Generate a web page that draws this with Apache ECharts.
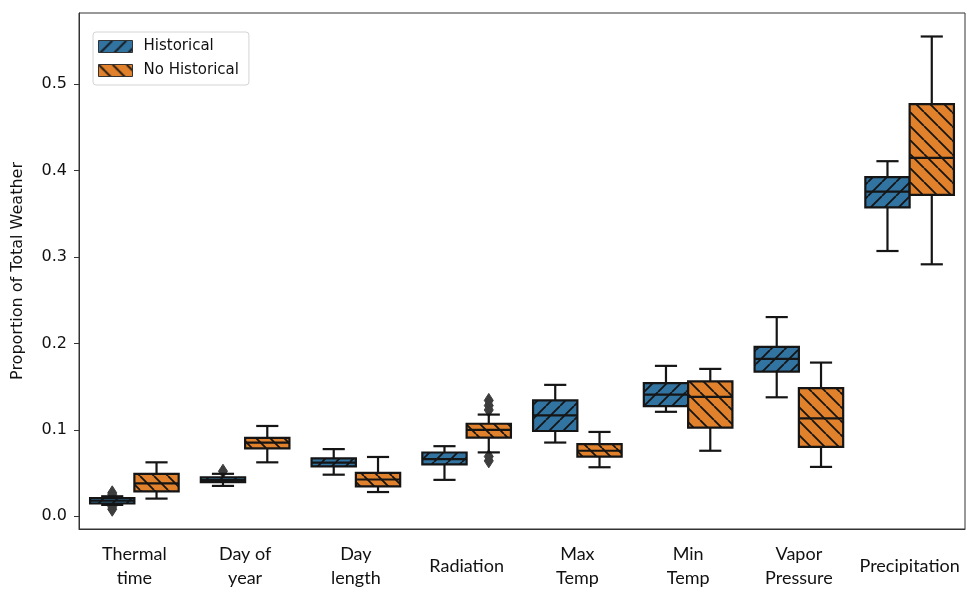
<!DOCTYPE html>
<html><head><meta charset="utf-8">
<script src="https://cdn.jsdelivr.net/npm/echarts@6/dist/echarts.min.js"></script>
<style>html,body{margin:0;padding:0;background:#fff}#c{width:968px;height:590px}</style>
</head><body><div id="c"></div>
<script>
const categories = ['Thermal\ntime','Day of\nyear','Day\nlength','Radiation','Max\nTemp','Min\nTemp','Vapor\nPressure','Precipitation'];
// each row: [whisker low, q1, median, q3, whisker high]
const historical = [
  [0.013, 0.0146, 0.018, 0.021, 0.023],
  [0.035, 0.0393, 0.042, 0.045, 0.049],
  [0.048, 0.0577, 0.062, 0.0669, 0.0776],
  [0.042, 0.060, 0.066, 0.0737, 0.081],
  [0.0852, 0.0986, 0.1166, 0.134, 0.152],
  [0.1208, 0.1273, 0.1407, 0.154, 0.174],
  [0.1376, 0.1674, 0.182, 0.196, 0.2305],
  [0.307, 0.3575, 0.3758, 0.3926, 0.411]
];
const noHistorical = [
  [0.0203, 0.0287, 0.038, 0.049, 0.0623],
  [0.0623, 0.0784, 0.0852, 0.0906, 0.1044],
  [0.0279, 0.0344, 0.0424, 0.0501, 0.0685],
  [0.0738, 0.091, 0.0998, 0.107, 0.1176],
  [0.0566, 0.0688, 0.0757, 0.0833, 0.0975],
  [0.0757, 0.1024, 0.138, 0.156, 0.1705],
  [0.057, 0.0803, 0.1132, 0.1483, 0.1778],
  [0.2916, 0.372, 0.4148, 0.477, 0.5554]
];
// [category index, value]
const historicalOutliers = [[0, 0.008], [0, 0.011], [0, 0.025], [0, 0.027], [1, 0.052]];
const noHistoricalOutliers = [[3, 0.123], [3, 0.128], [3, 0.134], [3, 0.064], [3, 0.069]];
const yTicks = [0, 0.1, 0.2, 0.3, 0.4, 0.5];
const seriesNames = ['Historical', 'No Historical'];

const BLUE = '#3274a1', ORANGE = '#e1812c', EDGE = '#151515';

function makePattern(bg, dir) {
  const s = 14;
  const c = document.createElement('canvas');
  c.width = s; c.height = s;
  const ctx = c.getContext('2d');
  ctx.fillStyle = bg; ctx.fillRect(0, 0, s, s);
  ctx.strokeStyle = EDGE; ctx.lineWidth = 1.8;
  ctx.beginPath();
  for (let k = -1; k <= 1; k++) {
    if (dir === '/') { ctx.moveTo(k * s, s); ctx.lineTo(k * s + s, 0); }
    else { ctx.moveTo(k * s, 0); ctx.lineTo(k * s + s, s); }
  }
  ctx.stroke();
  return { image: c, repeat: 'repeat' };
}
const patHist = makePattern(BLUE, '/');
const patNo = makePattern(ORANGE, '\\');

function boxRender(sign, pattern) {
  return function (params, api) {
    const i = api.value(0);
    const band = api.size([1, 0])[0];
    const w = band * 0.4;
    const cx = api.coord([i, 0])[0] + sign * w / 2;
    const y = k => api.coord([i, api.value(k)])[1];
    const lo = y(1), q1 = y(2), med = y(3), q3 = y(4), hi = y(5);
    const cw = w / 4;
    const ls = { stroke: EDGE, lineWidth: 2.2 };
    return {
      type: 'group',
      children: [
        { type: 'line', shape: { x1: cx, y1: lo, x2: cx, y2: q1 }, style: ls },
        { type: 'line', shape: { x1: cx, y1: q3, x2: cx, y2: hi }, style: ls },
        { type: 'line', shape: { x1: cx - cw, y1: lo, x2: cx + cw, y2: lo }, style: ls },
        { type: 'line', shape: { x1: cx - cw, y1: hi, x2: cx + cw, y2: hi }, style: ls },
        { type: 'rect', shape: { x: cx - w / 2, y: q3, width: w, height: q1 - q3 }, style: { fill: pattern, stroke: EDGE, lineWidth: 2.2 } },
        { type: 'line', shape: { x1: cx - w / 2, y1: med, x2: cx + w / 2, y2: med }, style: ls }
      ]
    };
  };
}
function outlierRender(sign) {
  return function (params, api) {
    const i = api.value(0);
    const band = api.size([1, 0])[0];
    const w = band * 0.4;
    const p = api.coord([i, api.value(1)]);
    const cx = p[0] + sign * w / 2, cy = p[1];
    const hw = 4.5, hh = 7;
    return {
      type: 'polygon',
      shape: { points: [[cx, cy - hh], [cx + hw, cy], [cx, cy + hh], [cx - hw, cy]] },
      style: { fill: '#3d3d3d', stroke: '#3d3d3d', lineWidth: 1 }
    };
  };
}

const chart = echarts.init(document.getElementById('c'));
chart.setOption({
  animation: false,
  backgroundColor: '#fff',
  grid: { left: 79, right: 3, top: 13, bottom: 56, show: true, borderColor: '#333', borderWidth: 1, backgroundColor: 'transparent' },
  legend: {
    data: seriesNames,
    orient: 'vertical', left: 93, top: 32,
    icon: 'rect', itemWidth: 34, itemHeight: 12, itemGap: 9,
    padding: [7, 10, 7, 5],
    borderColor: '#d4d4d4', borderWidth: 1, borderRadius: 3,
    textStyle: { fontFamily: 'DejaVu Sans', fontSize: 15, color: '#111', padding: [0, 0, 0, 6] },
    itemStyle: { borderColor: '#333', borderWidth: 1 }
  },
  xAxis: {
    type: 'category', data: categories,
    axisLine: { onZero: false, lineStyle: { color: '#333' } },
    axisTick: { alignWithLabel: true, length: 5, lineStyle: { color: '#333' } },
    axisLabel: {
      interval: 0, margin: 13, color: '#111',
      fontFamily: 'Lato', fontSize: 18, lineHeight: 24,
      formatter: v => v.indexOf('\n') < 0 ? '{s|' + v + '}' : v,
      rich: { s: { fontFamily: 'Lato', fontSize: 18, lineHeight: 48, color: '#111' } }
    },
    splitLine: { show: false }
  },
  yAxis: {
    type: 'value', min: -0.0149, max: 0.5826,
    name: 'Proportion of Total Weather', nameLocation: 'middle', nameGap: 53,
    nameTextStyle: { fontFamily: 'DejaVu Sans', fontSize: 16, color: '#111' },
    axisLine: { show: true, lineStyle: { color: '#333' } },
    axisTick: { show: true, length: 5, customValues: yTicks, lineStyle: { color: '#333' } },
    axisLabel: { customValues: yTicks, formatter: v => v.toFixed(1), fontFamily: 'DejaVu Sans', fontSize: 16, color: '#111', margin: 12 },
    splitLine: { show: false }
  },
  series: [
    {
      name: seriesNames[0], type: 'custom', renderItem: boxRender(-1, patHist),
      itemStyle: { color: patHist, borderColor: '#333', borderWidth: 1 },
      encode: { x: 0, y: [1, 2, 3, 4, 5] },
      data: historical.map((r, i) => [i].concat(r)), z: 3
    },
    {
      name: seriesNames[1], type: 'custom', renderItem: boxRender(1, patNo),
      itemStyle: { color: patNo, borderColor: '#333', borderWidth: 1 },
      encode: { x: 0, y: [1, 2, 3, 4, 5] },
      data: noHistorical.map((r, i) => [i].concat(r)), z: 3
    },
    {
      name: 'hist-out', type: 'custom', renderItem: outlierRender(-1),
      encode: { x: 0, y: 1 }, data: historicalOutliers, z: 2
    },
    {
      name: 'nohist-out', type: 'custom', renderItem: outlierRender(1),
      encode: { x: 0, y: 1 }, data: noHistoricalOutliers, z: 2
    }
  ]
});
</script></body></html>
